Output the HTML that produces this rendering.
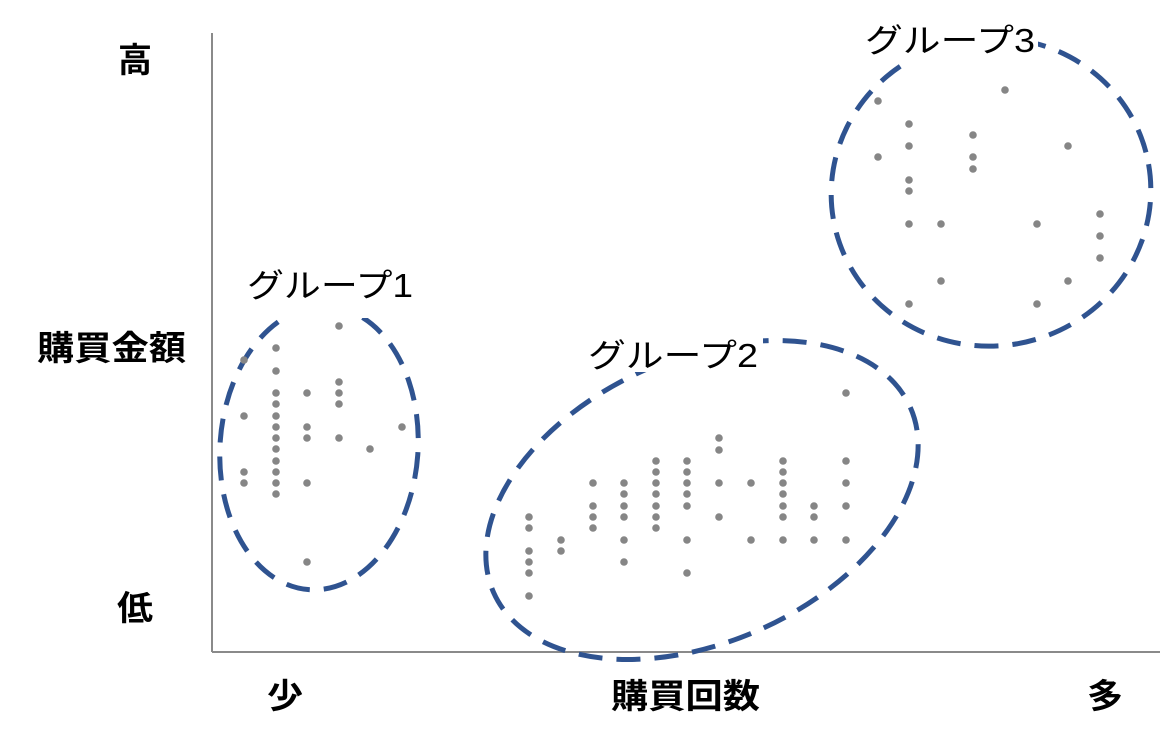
<!DOCTYPE html>
<html><head><meta charset="utf-8"><style>
html,body{margin:0;padding:0;background:#fff;}
svg{display:block;}
text{font-family:"Liberation Sans","Noto Sans CJK JP",sans-serif;fill:#000;}
</style></head><body>
<svg width="1172" height="739" viewBox="0 0 1172 739" xmlns="http://www.w3.org/2000/svg">
<line x1="212" y1="33" x2="212" y2="652" stroke="#8a8a8a" stroke-width="2"/>
<line x1="212" y1="652" x2="1160" y2="652" stroke="#8a8a8a" stroke-width="2"/>
<g fill="none" stroke="#2f5390" stroke-width="5" stroke-dasharray="24 14">
<ellipse cx="319" cy="448" rx="99" ry="142" transform="rotate(4 319 448)"/>
<ellipse cx="702" cy="500" rx="228" ry="142" transform="rotate(-24 702 500)"/>
<ellipse cx="991" cy="192" rx="160" ry="154" transform="rotate(-10 991 192)"/>
</g>
<rect x="244" y="262" width="172" height="40" fill="#fff"/>
<rect x="250" y="300" width="132" height="18" fill="#fff"/>
<rect x="585" y="332" width="178" height="40" fill="#fff"/>
<rect x="862" y="18" width="176" height="44" fill="#fff"/>
<g font-size="33">
<text x="247" y="297" textLength="166" lengthAdjust="spacingAndGlyphs">グループ1</text>
<text x="588" y="367" textLength="170" lengthAdjust="spacingAndGlyphs">グループ2</text>
<text x="865" y="52" textLength="170" lengthAdjust="spacingAndGlyphs">グループ3</text>
</g>
<g font-size="34" font-weight="bold">
<text x="118" y="72" textLength="34" lengthAdjust="spacingAndGlyphs">高</text>
<text x="37" y="360" textLength="149" lengthAdjust="spacingAndGlyphs">購買金額</text>
<text x="117" y="620" textLength="36" lengthAdjust="spacingAndGlyphs">低</text>
<text x="267" y="708" textLength="36" lengthAdjust="spacingAndGlyphs">少</text>
<text x="611" y="708" textLength="149" lengthAdjust="spacingAndGlyphs">購買回数</text>
<text x="1087" y="708" textLength="36" lengthAdjust="spacingAndGlyphs">多</text>
</g>
<g fill="#868686">
<circle cx="244" cy="360" r="3.8"/><circle cx="244" cy="416" r="3.8"/><circle cx="244" cy="472" r="3.8"/><circle cx="244" cy="483" r="3.8"/>
<circle cx="276" cy="348" r="3.8"/><circle cx="276" cy="371" r="3.8"/><circle cx="276" cy="393" r="3.8"/><circle cx="276" cy="404" r="3.8"/><circle cx="276" cy="416" r="3.8"/><circle cx="276" cy="427" r="3.8"/><circle cx="276" cy="438" r="3.8"/><circle cx="276" cy="449" r="3.8"/><circle cx="276" cy="461" r="3.8"/><circle cx="276" cy="472" r="3.8"/><circle cx="276" cy="483" r="3.8"/><circle cx="276" cy="494" r="3.8"/>
<circle cx="307" cy="393" r="3.8"/><circle cx="307" cy="427" r="3.8"/><circle cx="307" cy="438" r="3.8"/><circle cx="307" cy="483" r="3.8"/><circle cx="307" cy="562" r="3.8"/>
<circle cx="339" cy="326" r="3.8"/><circle cx="339" cy="382" r="3.8"/><circle cx="339" cy="393" r="3.8"/><circle cx="339" cy="404" r="3.8"/><circle cx="339" cy="438" r="3.8"/>
<circle cx="370" cy="449" r="3.8"/><circle cx="402" cy="427" r="3.8"/>
<circle cx="529" cy="517" r="3.8"/><circle cx="529" cy="528" r="3.8"/><circle cx="529" cy="551" r="3.8"/><circle cx="529" cy="562" r="3.8"/><circle cx="529" cy="573" r="3.8"/><circle cx="529" cy="596" r="3.8"/>
<circle cx="561" cy="540" r="3.8"/><circle cx="561" cy="551" r="3.8"/>
<circle cx="593" cy="483" r="3.8"/><circle cx="593" cy="506" r="3.8"/><circle cx="593" cy="517" r="3.8"/><circle cx="593" cy="528" r="3.8"/>
<circle cx="624" cy="483" r="3.8"/><circle cx="624" cy="494" r="3.8"/><circle cx="624" cy="506" r="3.8"/><circle cx="624" cy="517" r="3.8"/><circle cx="624" cy="540" r="3.8"/><circle cx="624" cy="562" r="3.8"/>
<circle cx="656" cy="461" r="3.8"/><circle cx="656" cy="472" r="3.8"/><circle cx="656" cy="483" r="3.8"/><circle cx="656" cy="494" r="3.8"/><circle cx="656" cy="506" r="3.8"/><circle cx="656" cy="517" r="3.8"/><circle cx="656" cy="528" r="3.8"/>
<circle cx="687" cy="461" r="3.8"/><circle cx="687" cy="472" r="3.8"/><circle cx="687" cy="483" r="3.8"/><circle cx="687" cy="494" r="3.8"/><circle cx="687" cy="506" r="3.8"/><circle cx="687" cy="540" r="3.8"/><circle cx="687" cy="573" r="3.8"/>
<circle cx="719" cy="438" r="3.8"/><circle cx="719" cy="450" r="3.8"/><circle cx="719" cy="483" r="3.8"/><circle cx="719" cy="517" r="3.8"/>
<circle cx="751" cy="483" r="3.8"/><circle cx="751" cy="540" r="3.8"/>
<circle cx="783" cy="461" r="3.8"/><circle cx="783" cy="472" r="3.8"/><circle cx="783" cy="483" r="3.8"/><circle cx="783" cy="494" r="3.8"/><circle cx="783" cy="506" r="3.8"/><circle cx="783" cy="517" r="3.8"/><circle cx="783" cy="540" r="3.8"/>
<circle cx="814" cy="506" r="3.8"/><circle cx="814" cy="517" r="3.8"/><circle cx="814" cy="540" r="3.8"/>
<circle cx="846" cy="393" r="3.8"/><circle cx="846" cy="461" r="3.8"/><circle cx="846" cy="483" r="3.8"/><circle cx="846" cy="506" r="3.8"/><circle cx="846" cy="540" r="3.8"/>
<circle cx="878" cy="101" r="3.8"/><circle cx="878" cy="157" r="3.8"/>
<circle cx="909" cy="124" r="3.8"/><circle cx="909" cy="146" r="3.8"/><circle cx="909" cy="180" r="3.8"/><circle cx="909" cy="191" r="3.8"/><circle cx="909" cy="224" r="3.8"/><circle cx="909" cy="304" r="3.8"/>
<circle cx="941" cy="224" r="3.8"/><circle cx="941" cy="281" r="3.8"/>
<circle cx="973" cy="135" r="3.8"/><circle cx="973" cy="157" r="3.8"/><circle cx="973" cy="169" r="3.8"/>
<circle cx="1005" cy="90" r="3.8"/>
<circle cx="1037" cy="224" r="3.8"/><circle cx="1037" cy="304" r="3.8"/>
<circle cx="1068" cy="146" r="3.8"/><circle cx="1068" cy="281" r="3.8"/>
<circle cx="1100" cy="214" r="3.8"/><circle cx="1100" cy="236" r="3.8"/><circle cx="1100" cy="258" r="3.8"/>
</g>
</svg>
</body></html>
